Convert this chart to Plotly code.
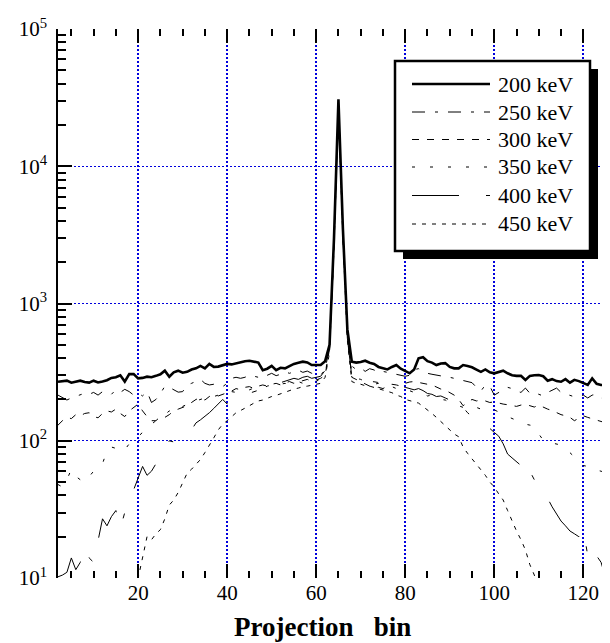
import plotly.graph_objects as go

# ---------------- data ----------------
bins = list(range(2, 127))  # projection bins 2..126

kev200 = [269, 272, 274, 265, 270, 274, 268, 265, 274, 266,
          270, 276, 287, 290, 300, 270, 306, 306, 285, 287,
          293, 290, 297, 305, 324, 293, 315, 324, 313, 318,
          330, 337, 351, 337, 363, 345, 347, 355, 363, 360,
          367, 370, 380, 383, 375, 371, 327, 335, 351, 327,
          340, 337, 350, 363, 370, 377, 372, 356, 356, 356,
          380, 500, 3000, 30800, 3500, 650, 377, 371, 375, 383,
          370, 363, 345, 337, 331, 345, 356, 335, 320, 310,
          330, 399, 406, 380, 371, 356, 365, 368, 345, 337,
          337, 356, 350, 343, 330, 318, 331, 315, 310, 318,
          324, 310, 300, 297, 297, 277, 297, 300, 301, 295,
          274, 281, 272, 269, 281, 265, 278, 272, 265, 255,
          285, 260, 255, 255, 285]

kev250 = [215, 205, 198, 205, 210, 214, 222, 218, 225, 215,
          228, 221, 218, 235, 225, 237, 228, 215, 222, 212,
          228, 190, 200, 220, 250, 245, 236, 226, 228, 255,
          262, 270, 280, 262, 255, 258, 250, 248, 262, 285,
          290, 285, 290, 301, 295, 290, 305, 300, 310, 298,
          305, 318, 310, 320, 327, 315, 322, 310, 305, 300,
          330, 480, 2900, 29500, 3400, 620, 350, 330, 340, 320,
          335, 328, 312, 320, 315, 310, 305, 300, 295, 300,
          330, 335, 320, 310, 305, 300, 298, 293, 290, 285,
          280, 277, 270, 265, 245, 230, 255, 250, 215, 225,
          235, 245, 240, 230, 225, 242, 222, 225, 218, 212,
          225, 232, 242, 225, 220, 215, 209, 212, 215, 205,
          215, 218, 205, 200, 210]

kev300 = [130, 140, 148, 145, 155, 152, 158, 160, 150, 147,
          158, 165, 162, 170, 158, 150, 165, 175, 185, 165,
          150, 140, 140, 150, 148, 155, 165, 170, 175, 180,
          190, 200, 205, 198, 210, 215, 212, 218, 225, 230,
          240, 235, 245, 248, 240, 250, 255, 250, 258, 262,
          255, 265, 270, 262, 268, 275, 280, 270, 278, 285,
          300, 470, 2800, 28500, 3300, 600, 290, 280, 270, 262,
          250, 241, 245, 240, 250, 258, 255, 250, 262, 268,
          270, 265, 260, 258, 255, 245, 238, 234, 225, 215,
          200, 180, 190, 200, 195, 198, 195, 190, 192, 188,
          185, 183, 180, 178, 182, 185, 180, 176, 182, 175,
          170, 166, 160, 155, 152, 148, 140, 145, 152, 148,
          145, 142, 138, 135, 132]

kev350 = [48, 46, 52, 62, 55, 52, 50, 55, 60, 63,
          68, 85, 90, 88, 91, 86, 95, 100, 107, 115,
          127, 132, 140, 150, 155, 165, 160, 172, 178, 185,
          190, 195, 200, 205, 198, 210, 215, 212, 222, 228,
          225, 232, 238, 235, 242, 245, 240, 250, 255, 248,
          258, 262, 255, 265, 270, 262, 272, 278, 270, 285,
          310, 460, 2700, 27500, 3200, 580, 300, 285, 280, 270,
          265, 258, 262, 250, 245, 248, 240, 235, 238, 230,
          225, 228, 220, 212, 215, 205, 200, 198, 190, 185,
          180, 175, 178, 172, 175, 170, 172, 170, 168, 162,
          158, 150, 145, 140, 136, 132, 130, 128, 112, 101,
          98, 96, 94, 93, 88, 82, 77, 72, 66, 65,
          64, 61, 60, 58, 56]

kev400 = [10.2, 10.5, 11, 14, 11.5, 13, 16.9, 14, 13, 19,
          27, 24, 28, 31, 23, 30, 38, 44, 53, 65,
          56, 60, 68, 78, 85, 100, 98, 108, 112, 118,
          120, 135, 142, 150, 160, 172, 185, 200, 185, 198,
          205, 212, 218, 222, 228, 235, 240, 245, 250, 262,
          265, 272, 278, 285, 280, 290, 295, 285, 290, 295,
          325, 450, 2600, 26500, 3100, 560, 293, 282, 275, 288,
          270, 269, 265, 262, 264, 258, 252, 248, 245, 240,
          235, 240, 232, 221, 218, 210, 212, 205, 198, 188,
          163, 175, 160, 150, 138, 128, 122, 123, 115, 108,
          95, 80, 75, 70, 66, 54, 60, 52, 46, 42,
          38, 33, 29, 26, 24, 22, 21, 20, 23, 14.5,
          16.9, 14.5, 13, 10, 9]

kev450 = [None, None, None, None, None, None, None, None, None, None,
          None, None, None, None, None, None, None, 7, 10, 14,
          20, 19, 21, 22.5, 27, 34, 37, 42, 50, 58,
          62, 67, 73, 82, 92, 105, 120, 132, 140, 150,
          160, 166, 172, 180, 188, 195, 198, 205, 210, 214,
          220, 226, 232, 238, 242, 248, 250, 255, 260, 262,
          290, 440, 2500, 25500, 3000, 540, 270, 262, 258, 252,
          250, 245, 240, 235, 230, 224, 215, 210, 200, 195,
          192, 188, 178, 168, 158, 148, 138, 130, 120, 112,
          107, 90, 81, 74, 68, 62, 56, 50, 46, 41,
          37, 31, 26, 22, 19, 16, 12.5, 10.5, 8, 6,
          None, None, None, None, None, None, None, None, None, None,
          None, None, None, None, None]

series_names = ["200 keV", "250 keV", "300 keV", "350 keV", "400 keV", "450 keV"]
series_values = [kev200, kev250, kev300, kev350, kev400, kev450]
for s in series_values:
    assert len(s) == len(bins)

x_ticks = [20, 40, 60, 80, 100, 120]
y_ticks = [10, 100, 1000, 10000, 100000]
y_ticktext = ["10<sup>1</sup>", "10<sup>2</sup>", "10<sup>3</sup>", "10<sup>4</sup>", "10<sup>5</sup>"]

# ---------------- styles ----------------
dashes = ["solid", "13px,10px,3px,10px", "7px,8px", "3px,15px", "47px,27px,5px,27px", "4px,6px"]
widths = [2.6, 1, 1, 1, 1, 1]
FONT = "Liberation Serif"
GRID = "#0000dd"

# page body has an 8px default margin: figure is sized so the page still spans 610x643
OFF = 8
FIG_W, FIG_H = 610 - OFF, 643 - OFF
L, T, PW, PH = 58, 29, 552, 549  # plot area in page pixels

fig = go.Figure()
for name, vals, d, w in zip(series_names, series_values, dashes, widths):
    fig.add_trace(go.Scatter(x=bins, y=vals, mode="lines", name=name,
                             line=dict(color="black", width=w, dash=d),
                             connectgaps=False, showlegend=False))

minor_y = [m * 10 ** e for e in range(1, 5) for m in range(2, 10)]

fig.update_layout(
    width=FIG_W, height=FIG_H,
    margin=dict(l=L - OFF, r=0, t=T - OFF, b=FIG_H - (T - OFF) - PH, autoexpand=False),
    plot_bgcolor="white", paper_bgcolor="white",
    font=dict(family=FONT, size=21, color="black"),
    showlegend=False,
    xaxis=dict(range=[2, 126], tickmode="array", tickvals=x_ticks,
               ticks="inside", ticklen=14, tickwidth=1.5, tickcolor="black",
               mirror="ticks", showline=False, zeroline=False,
               showgrid=True, gridcolor=GRID, griddash="2px,2px", gridwidth=1.5,
               minor=dict(dtick=5, tick0=0, ticks="inside", ticklen=7, tickwidth=1.5,
                          tickcolor="black", showgrid=False),
               tickfont=dict(size=21, family=FONT), ticklabelstandoff=0),
    yaxis=dict(type="log", range=[1, 5], tickmode="array", tickvals=y_ticks, ticktext=y_ticktext,
               ticks="inside", ticklen=14, tickwidth=1.5, tickcolor="black",
               showline=True, linecolor="black", linewidth=1.5, zeroline=False,
               showgrid=True, gridcolor=GRID, griddash="2px,2px", gridwidth=1.3,
               minor=dict(tickmode="array", tickvals=minor_y, ticks="inside", ticklen=8,
                          tickwidth=1.5, tickcolor="black", showgrid=False),
               tickfont=dict(size=21, family=FONT), ticklabelstandoff=5),
)

def px(xp):
    return (xp - L) / PW
def py(yp):
    return (T + PH - yp) / PH

# axis title
fig.add_annotation(text="<b>Projection\u00a0\u00a0 bin</b>", xref="paper", yref="paper",
                   x=px(322), y=py(627), xanchor="center", yanchor="middle", showarrow=False,
                   font=dict(size=27, family=FONT, color="black"))

# ---------------- legend box ----------------
fig.add_shape(type="rect", xref="paper", yref="paper", x0=px(403), x1=px(598), y0=py(69), y1=py(259),
              fillcolor="black", line=dict(color="black", width=0), layer="above")
fig.add_shape(type="rect", xref="paper", yref="paper", x0=px(395), x1=px(590), y0=py(61), y1=py(251),
              fillcolor="white", line=dict(color="black", width=2.5), layer="above")
rows = [84, 112, 139.5, 167, 195.5, 224]
for name, d, w, ry in zip(series_names, dashes, widths, rows):
    fig.add_shape(type="line", xref="paper", yref="paper", x0=px(412), x1=px(490), y0=py(ry), y1=py(ry),
                  line=dict(color="black", width=w, dash=d), layer="above")
    fig.add_annotation(text=name, xref="paper", yref="paper", x=px(496), y=py(ry),
                       xanchor="left", yanchor="middle", showarrow=False,
                       font=dict(size=22, family=FONT, color="black"))

fig.write_html("out.html")
